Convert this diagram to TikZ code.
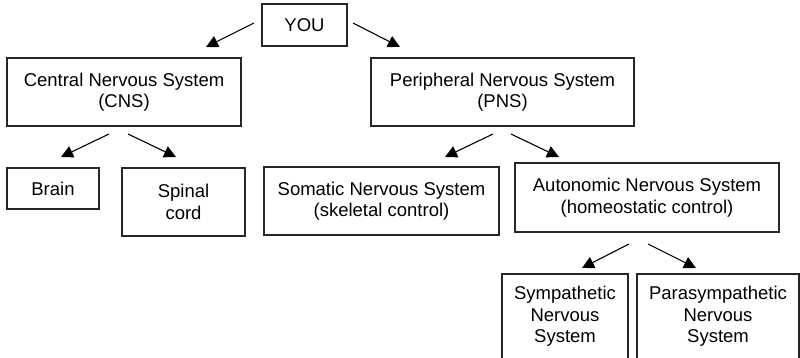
\documentclass[tikz,border=0pt]{standalone}
\usepackage{fontspec}
\setmainfont{Liberation Sans}
\usetikzlibrary{arrows.meta}
\begin{document}
\begin{tikzpicture}[x=1pt,y=-1pt,
  box/.style={draw=black!85, line width=1.2pt, rectangle, inner sep=0pt, align=center,
    font=\fontsize{18.5}{21.5}\selectfont},
  arr/.style={line width=1.1pt, -{Triangle[length=12pt,width=12pt]}}]
\clip (0,0) rectangle (800,358);
\fill[white] (0,0) rectangle (800,358);
\node[box, minimum width=85pt, minimum height=42pt] (you) at (304.5,25) {YOU};
\node[box, minimum width=234pt, minimum height=68pt] (cns) at (124,92) {Central Nervous System\\(CNS)};
\node[box, minimum width=263pt, minimum height=68pt] (pns) at (502.5,92) {Peripheral Nervous System\\(PNS)};
\node[box, minimum width=92pt, minimum height=41pt] (brain) at (53,188.5) {Brain};
\node[box, minimum width=123pt, minimum height=68pt] (spinal) at (183.5,202) {Spinal\\cord};
\node[box, minimum width=235pt, minimum height=68pt] (somatic) at (381.5,201) {Somatic Nervous System\\(skeletal control)};
\node[box, minimum width=264pt, minimum height=69pt] (ans) at (647,197.5) {Autonomic Nervous System\\(homeostatic control)};
\node[box, minimum width=126pt, minimum height=85pt] (symp) at (565,316.5) {Sympathetic\\Nervous\\System};
\node[box, minimum width=162pt, minimum height=85pt] (para) at (718,316.5) {Parasympathetic\\Nervous\\System};
% arrow end points
\coordinate (a1s) at (254,23);  \coordinate (a1e) at (206,47);
\coordinate (a2s) at (353,23);  \coordinate (a2e) at (400,47);
\coordinate (a3s) at (109,134); \coordinate (a3e) at (61,157);
\coordinate (a4s) at (128,134); \coordinate (a4e) at (176,157);
\coordinate (a5s) at (493,134); \coordinate (a5e) at (445,157);
\coordinate (a6s) at (511,134); \coordinate (a6e) at (559,157);
\coordinate (a7s) at (629,244); \coordinate (a7e) at (582,268);
\coordinate (a8s) at (648,244); \coordinate (a8e) at (696,268);
\draw[arr] (a1s) -- (a1e);
\draw[arr] (a2s) -- (a2e);
\draw[arr] (a3s) -- (a3e);
\draw[arr] (a4s) -- (a4e);
\draw[arr] (a5s) -- (a5e);
\draw[arr] (a6s) -- (a6e);
\draw[arr] (a7s) -- (a7e);
\draw[arr] (a8s) -- (a8e);
\end{tikzpicture}
\end{document}
